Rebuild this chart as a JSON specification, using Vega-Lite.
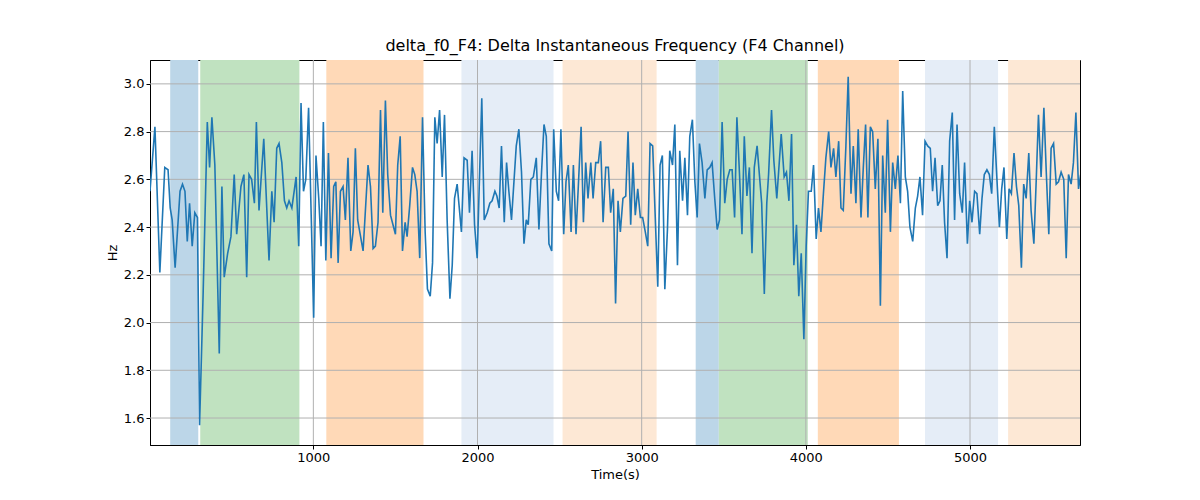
{
  "$schema": "https://vega.github.io/schema/vega-lite/v6.json",
  "width": 930,
  "height": 385,
  "autosize": {"type": "none"},
  "padding": {"left": 150, "top": 60, "right": 120, "bottom": 55},
  "background": "white",
  "title": {"text": "delta_f0_F4: Delta Instantaneous Frequency (F4 Channel)", "font": "DejaVu Sans", "fontSize": 16, "fontWeight": "normal", "offset": 6},
  "datasets": {
    "spans": [
      {"start": 128, "end": 299, "kind": "a"},
      {"start": 311, "end": 915, "kind": "b"},
      {"start": 1079, "end": 1671, "kind": "c"},
      {"start": 1902, "end": 2463, "kind": "d"},
      {"start": 2518, "end": 3091, "kind": "e"},
      {"start": 3329, "end": 3470, "kind": "a"},
      {"start": 3470, "end": 4012, "kind": "b"},
      {"start": 4073, "end": 4567, "kind": "c"},
      {"start": 4726, "end": 5171, "kind": "d"},
      {"start": 5232, "end": 5700, "kind": "e"}
    ],
    "xgrid": [{"x": 1000}, {"x": 2000}, {"x": 3000}, {"x": 4000}, {"x": 5000}],
    "ygrid": [{"y": 1.6}, {"y": 1.8}, {"y": 2.0}, {"y": 2.2}, {"y": 2.4}, {"y": 2.6}, {"y": 2.8}, {"y": 3.0}],
    "series": [
      {"t":5,"v":2.55},{"t":35,"v":2.82},{"t":65,"v":2.21},{"t":95,"v":2.65},{"t":115,"v":2.64},{"t":128,"v":2.48},{"t":140,"v":2.43},{"t":158,"v":2.23},{"t":188,"v":2.55},{"t":203,"v":2.58},{"t":218,"v":2.55},{"t":232,"v":2.34},{"t":246,"v":2.5},{"t":262,"v":2.32},{"t":278,"v":2.46},{"t":294,"v":2.44},{"t":307,"v":1.57},{"t":329,"v":2.13},{"t":354,"v":2.84},{"t":368,"v":2.65},{"t":382,"v":2.86},{"t":400,"v":2.66},{"t":427,"v":1.87},{"t":443,"v":2.57},{"t":457,"v":2.19},{"t":478,"v":2.29},{"t":498,"v":2.36},{"t":518,"v":2.62},{"t":533,"v":2.37},{"t":559,"v":2.57},{"t":577,"v":2.62},{"t":594,"v":2.19},{"t":608,"v":2.62},{"t":624,"v":2.6},{"t":641,"v":2.5},{"t":653,"v":2.84},{"t":669,"v":2.47},{"t":698,"v":2.77},{"t":730,"v":2.26},{"t":747,"v":2.55},{"t":761,"v":2.42},{"t":777,"v":2.73},{"t":791,"v":2.75},{"t":808,"v":2.67},{"t":824,"v":2.51},{"t":838,"v":2.48},{"t":852,"v":2.51},{"t":869,"v":2.48},{"t":883,"v":2.55},{"t":895,"v":2.61},{"t":911,"v":2.32},{"t":925,"v":2.92},{"t":940,"v":2.55},{"t":954,"v":2.6},{"t":971,"v":2.9},{"t":1002,"v":2.02},{"t":1016,"v":2.7},{"t":1033,"v":2.52},{"t":1047,"v":2.32},{"t":1061,"v":2.84},{"t":1076,"v":2.26},{"t":1092,"v":2.71},{"t":1108,"v":2.27},{"t":1124,"v":2.57},{"t":1137,"v":2.59},{"t":1151,"v":2.25},{"t":1165,"v":2.55},{"t":1181,"v":2.57},{"t":1195,"v":2.43},{"t":1211,"v":2.69},{"t":1228,"v":2.3},{"t":1242,"v":2.38},{"t":1256,"v":2.73},{"t":1270,"v":2.43},{"t":1303,"v":2.3},{"t":1333,"v":2.66},{"t":1348,"v":2.57},{"t":1364,"v":2.31},{"t":1378,"v":2.32},{"t":1394,"v":2.42},{"t":1409,"v":2.89},{"t":1423,"v":2.46},{"t":1439,"v":2.93},{"t":1453,"v":2.62},{"t":1470,"v":2.45},{"t":1500,"v":2.37},{"t":1514,"v":2.66},{"t":1529,"v":2.78},{"t":1543,"v":2.3},{"t":1559,"v":2.42},{"t":1571,"v":2.36},{"t":1587,"v":2.49},{"t":1604,"v":2.65},{"t":1618,"v":2.62},{"t":1632,"v":2.55},{"t":1648,"v":2.27},{"t":1665,"v":2.86},{"t":1681,"v":2.38},{"t":1695,"v":2.14},{"t":1712,"v":2.11},{"t":1726,"v":2.25},{"t":1740,"v":2.86},{"t":1754,"v":2.75},{"t":1769,"v":2.89},{"t":1785,"v":2.61},{"t":1799,"v":2.87},{"t":1815,"v":2.43},{"t":1832,"v":2.1},{"t":1846,"v":2.24},{"t":1860,"v":2.52},{"t":1876,"v":2.58},{"t":1902,"v":2.38},{"t":1918,"v":2.69},{"t":1937,"v":2.68},{"t":1951,"v":2.46},{"t":1967,"v":2.72},{"t":1982,"v":2.41},{"t":1998,"v":2.27},{"t":2026,"v":2.94},{"t":2041,"v":2.43},{"t":2059,"v":2.46},{"t":2075,"v":2.5},{"t":2089,"v":2.51},{"t":2106,"v":2.55},{"t":2118,"v":2.53},{"t":2132,"v":2.48},{"t":2146,"v":2.74},{"t":2163,"v":2.42},{"t":2177,"v":2.67},{"t":2191,"v":2.55},{"t":2207,"v":2.43},{"t":2236,"v":2.74},{"t":2252,"v":2.81},{"t":2268,"v":2.63},{"t":2283,"v":2.33},{"t":2297,"v":2.43},{"t":2309,"v":2.41},{"t":2325,"v":2.6},{"t":2340,"v":2.61},{"t":2358,"v":2.69},{"t":2374,"v":2.39},{"t":2390,"v":2.63},{"t":2405,"v":2.83},{"t":2419,"v":2.78},{"t":2435,"v":2.33},{"t":2452,"v":2.3},{"t":2464,"v":2.81},{"t":2480,"v":2.55},{"t":2494,"v":2.51},{"t":2508,"v":2.81},{"t":2525,"v":2.37},{"t":2539,"v":2.59},{"t":2553,"v":2.66},{"t":2570,"v":2.38},{"t":2584,"v":2.66},{"t":2600,"v":2.37},{"t":2614,"v":2.57},{"t":2631,"v":2.82},{"t":2645,"v":2.42},{"t":2659,"v":2.67},{"t":2673,"v":2.52},{"t":2690,"v":2.67},{"t":2704,"v":2.52},{"t":2720,"v":2.67},{"t":2736,"v":2.67},{"t":2750,"v":2.76},{"t":2765,"v":2.42},{"t":2781,"v":2.65},{"t":2797,"v":2.65},{"t":2811,"v":2.46},{"t":2827,"v":2.56},{"t":2841,"v":2.08},{"t":2856,"v":2.51},{"t":2870,"v":2.38},{"t":2886,"v":2.52},{"t":2903,"v":2.53},{"t":2917,"v":2.8},{"t":2933,"v":2.41},{"t":2947,"v":2.67},{"t":2961,"v":2.45},{"t":2976,"v":2.56},{"t":2992,"v":2.44},{"t":3006,"v":2.44},{"t":3022,"v":2.38},{"t":3037,"v":2.32},{"t":3051,"v":2.75},{"t":3067,"v":2.74},{"t":3098,"v":2.15},{"t":3112,"v":2.66},{"t":3126,"v":2.7},{"t":3141,"v":2.14},{"t":3157,"v":2.39},{"t":3171,"v":2.72},{"t":3188,"v":2.66},{"t":3202,"v":2.83},{"t":3218,"v":2.24},{"t":3232,"v":2.72},{"t":3249,"v":2.51},{"t":3263,"v":2.69},{"t":3279,"v":2.45},{"t":3293,"v":2.78},{"t":3309,"v":2.85},{"t":3324,"v":2.59},{"t":3338,"v":2.44},{"t":3352,"v":2.75},{"t":3368,"v":2.67},{"t":3385,"v":2.52},{"t":3399,"v":2.64},{"t":3415,"v":2.65},{"t":3429,"v":2.67},{"t":3445,"v":2.52},{"t":3460,"v":2.39},{"t":3474,"v":2.43},{"t":3490,"v":2.84},{"t":3506,"v":2.5},{"t":3521,"v":2.6},{"t":3537,"v":2.64},{"t":3551,"v":2.64},{"t":3566,"v":2.44},{"t":3580,"v":2.86},{"t":3596,"v":2.62},{"t":3611,"v":2.37},{"t":3625,"v":2.78},{"t":3641,"v":2.53},{"t":3656,"v":2.65},{"t":3672,"v":2.29},{"t":3686,"v":2.65},{"t":3703,"v":2.74},{"t":3731,"v":2.5},{"t":3747,"v":2.12},{"t":3762,"v":2.5},{"t":3773,"v":2.62},{"t":3791,"v":2.89},{"t":3805,"v":2.68},{"t":3823,"v":2.52},{"t":3850,"v":2.79},{"t":3868,"v":2.61},{"t":3882,"v":2.63},{"t":3897,"v":2.51},{"t":3913,"v":2.79},{"t":3927,"v":2.24},{"t":3943,"v":2.41},{"t":3957,"v":2.11},{"t":3972,"v":2.29},{"t":3988,"v":1.93},{"t":4002,"v":2.32},{"t":4016,"v":2.55},{"t":4033,"v":2.55},{"t":4047,"v":2.66},{"t":4063,"v":2.35},{"t":4077,"v":2.48},{"t":4092,"v":2.38},{"t":4108,"v":2.55},{"t":4122,"v":2.69},{"t":4139,"v":2.8},{"t":4153,"v":2.65},{"t":4169,"v":2.73},{"t":4183,"v":2.61},{"t":4200,"v":2.76},{"t":4214,"v":2.48},{"t":4228,"v":2.47},{"t":4244,"v":2.74},{"t":4258,"v":3.03},{"t":4275,"v":2.54},{"t":4289,"v":2.74},{"t":4305,"v":2.5},{"t":4319,"v":2.81},{"t":4336,"v":2.44},{"t":4350,"v":2.65},{"t":4364,"v":2.83},{"t":4378,"v":2.44},{"t":4393,"v":2.82},{"t":4407,"v":2.8},{"t":4423,"v":2.56},{"t":4439,"v":2.77},{"t":4454,"v":2.07},{"t":4468,"v":2.7},{"t":4484,"v":2.46},{"t":4498,"v":2.85},{"t":4515,"v":2.38},{"t":4529,"v":2.67},{"t":4545,"v":2.56},{"t":4561,"v":2.7},{"t":4576,"v":2.5},{"t":4590,"v":2.97},{"t":4606,"v":2.61},{"t":4620,"v":2.55},{"t":4634,"v":2.4},{"t":4651,"v":2.34},{"t":4667,"v":2.48},{"t":4681,"v":2.53},{"t":4695,"v":2.61},{"t":4711,"v":2.45},{"t":4726,"v":2.76},{"t":4742,"v":2.74},{"t":4758,"v":2.73},{"t":4772,"v":2.55},{"t":4787,"v":2.69},{"t":4803,"v":2.49},{"t":4817,"v":2.51},{"t":4831,"v":2.66},{"t":4845,"v":2.42},{"t":4860,"v":2.27},{"t":4876,"v":2.76},{"t":4892,"v":2.88},{"t":4906,"v":2.43},{"t":4921,"v":2.83},{"t":4937,"v":2.54},{"t":4953,"v":2.46},{"t":4967,"v":2.67},{"t":4984,"v":2.33},{"t":4998,"v":2.51},{"t":5012,"v":2.42},{"t":5028,"v":2.55},{"t":5042,"v":2.54},{"t":5059,"v":2.37},{"t":5073,"v":2.52},{"t":5087,"v":2.62},{"t":5103,"v":2.64},{"t":5118,"v":2.62},{"t":5132,"v":2.54},{"t":5148,"v":2.82},{"t":5164,"v":2.6},{"t":5179,"v":2.4},{"t":5193,"v":2.56},{"t":5207,"v":2.65},{"t":5224,"v":2.35},{"t":5238,"v":2.56},{"t":5252,"v":2.54},{"t":5268,"v":2.71},{"t":5283,"v":2.57},{"t":5297,"v":2.49},{"t":5313,"v":2.23},{"t":5327,"v":2.58},{"t":5342,"v":2.52},{"t":5358,"v":2.71},{"t":5372,"v":2.47},{"t":5389,"v":2.33},{"t":5403,"v":2.59},{"t":5417,"v":2.87},{"t":5433,"v":2.61},{"t":5450,"v":2.9},{"t":5464,"v":2.64},{"t":5480,"v":2.37},{"t":5494,"v":2.73},{"t":5509,"v":2.75},{"t":5525,"v":2.58},{"t":5539,"v":2.59},{"t":5555,"v":2.63},{"t":5571,"v":2.6},{"t":5586,"v":2.27},{"t":5600,"v":2.62},{"t":5616,"v":2.58},{"t":5630,"v":2.67},{"t":5645,"v":2.88},{"t":5661,"v":2.56},{"t":5674,"v":2.62}
    ]
  },
  "layer": [
    {
      "data": {"name": "spans"},
      "mark": {"type": "rect", "clip": true},
      "encoding": {
        "x": {"field": "start", "type": "quantitative", "scale": {"domain": [5, 5670], "nice": false, "zero": false}},
        "x2": {"field": "end"},
        "color": {"field": "kind", "type": "nominal", "legend": null,
          "scale": {"domain": ["a", "b", "c", "d", "e"], "range": ["#bcd6e8", "#c0e2c0", "#ffd9b7", "#e5edf7", "#fde8d5"]}}
      }
    },
    {
      "data": {"name": "xgrid"},
      "mark": {"type": "rule", "color": "#b0b0b0", "strokeWidth": 1},
      "encoding": {"x": {"field": "x", "type": "quantitative"}}
    },
    {
      "data": {"name": "ygrid"},
      "mark": {"type": "rule", "color": "#b0b0b0", "strokeWidth": 1},
      "encoding": {"y": {"field": "y", "type": "quantitative"}}
    },
    {
      "data": {"name": "series"},
      "mark": {"type": "line", "color": "#1f77b4", "strokeWidth": 1.6, "clip": true},
      "encoding": {
        "x": {"field": "t", "type": "quantitative", "title": "Time(s)",
          "scale": {"domain": [5, 5670], "nice": false, "zero": false},
          "axis": {"values": [1000, 2000, 3000, 4000, 5000], "format": "d"}},
        "y": {"field": "v", "type": "quantitative", "title": "Hz",
          "scale": {"domain": [1.487, 3.1], "nice": false, "zero": false},
          "axis": {"values": [1.6, 1.8, 2.0, 2.2, 2.4, 2.6, 2.8, 3.0], "format": ".1f"}}
      }
    }
  ],
  "config": {
    "font": "DejaVu Sans",
    "view": {"stroke": "black", "strokeWidth": 1},
    "axis": {
      "grid": false,
      "domainColor": "black", "tickColor": "black", "tickSize": 4,
      "labelFont": "DejaVu Sans", "labelFontSize": 13, "labelColor": "black",
      "titleFont": "DejaVu Sans", "titleFontSize": 13, "titleFontWeight": "normal", "titleColor": "black"
    }
  }
}
